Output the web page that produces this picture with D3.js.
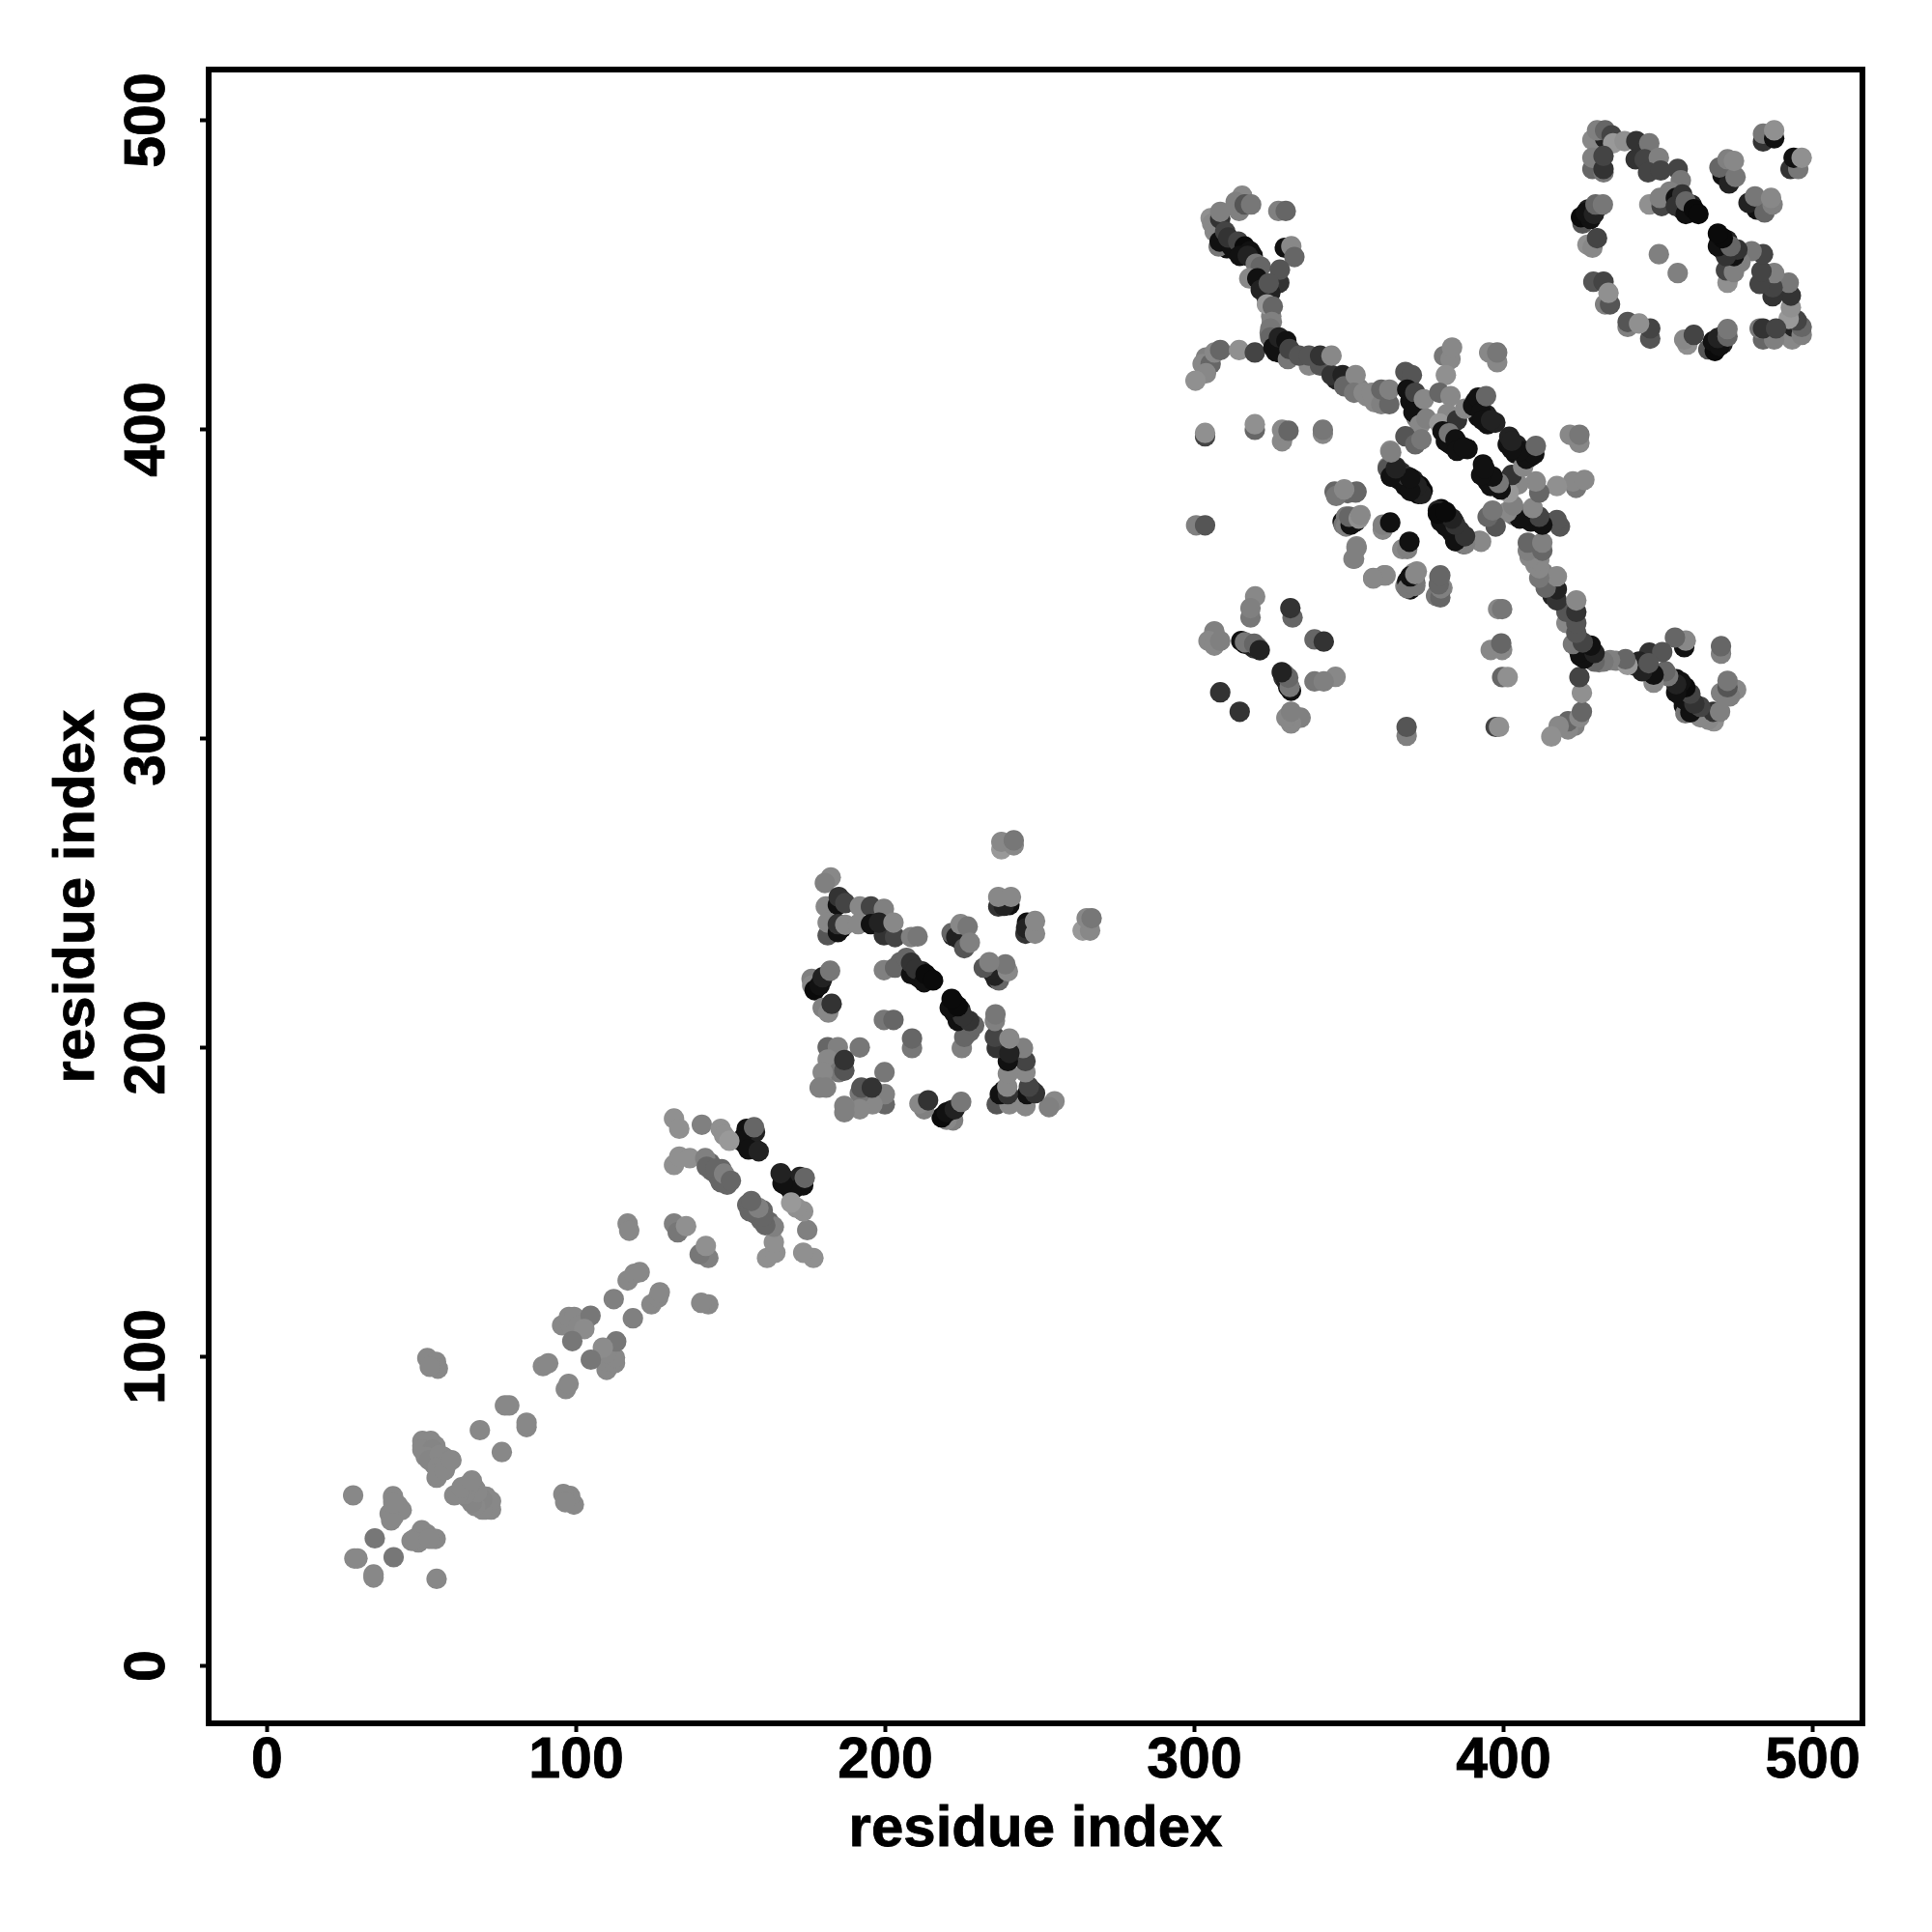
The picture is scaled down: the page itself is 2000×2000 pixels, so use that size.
<!DOCTYPE html>
<html><head><meta charset="utf-8"><title>Contact map</title>
<script src="https://cdnjs.cloudflare.com/ajax/libs/d3/7.8.5/d3.min.js"></script>
<style>html,body{margin:0;padding:0;background:#fff}</style></head>
<body><div id="chart"></div>
<script>
const tickValues = [0,100,200,300,400,500];
const axisTitle = "residue index";
// each contact: [residue i, residue j, grey level]; the map is symmetric, so each is drawn at (i,j) and (j,i)
const strandContacts = [
[50.4,71,133],[51.8,71.5,133],[52.9,70.5,133],[54.6,71,136],[53.3,68.3,133],[54.8,66.5,133],[56.9,66.9,136],[54.2,65,133],[56.5,64.5,136],[57.2,67.5,136],[58,64.5,136],[55,60.7,136],[41,53.5,136],[42,50.5,136],[41,48,136],[42.5,51.8,136],
[143.5,162.5,102],[144,160,102],[146,158.2,102],[147.5,157.5,102],[149,155.5,102],[147.2,160.5,102],[154.5,171,17],[155,168.5,17],[157,168,17],[158,167,34],[156.5,170.5,34],[156,172,17],[158,172.5,34],
[209.5,224.5,17],[211,222.5,17],[212,224.5,34],[214.2,222.5,10],[205,227.5,102],[178,221,17],[177.5,219.5,17],[179.5,221.5,34],[186,247.5,17],[186,238.5,17],[222,236,34],[224,235,34],
[316.5,330.5,17],[319.5,329,51],[317.5,330.5,119],[320.5,329.5,119],
[309.5,460,17],[310.5,458.5,17],[313,458,17],[315.5,458,17],[316.5,457,17],[319,456,17],[322,446.5,34],[323.5,442.5,51],[326,427.5,17],[326.5,425,17],[328.5,427,34],[331.5,424.5,68],[332.5,424,85],[346,416,34],[349.8,415.5,85],[350.5,413.5,119],[353.5,413,128],[356,410.5,136],[359,410.5,119],[362,410.5,102],[325,436.5,128],[324.5,431,119],
[365,385.8,17],[366.5,383.5,17],[367,386,51],[370,382,10],[371.5,380.5,10],[374,380,10],[380,372.5,34],[380.5,371,17],[382.5,370.8,17],[383.5,368.5,17],[385,367.5,17],[386,366,17],[385.5,365,34],[382.5,397.5,17],[383,395,17],[385.5,395,17],[386,393.5,17],[388.5,393.5,17],[391,408.8,17],[391.5,406.5,17],[393,409,17],[392,404,17],[394.7,404.5,34],[395,401.5,17],[397.5,402,34],[370,413,34],[370,409,17],[372,408,17],[372,403.5,119],
[457,476,17],[457,473,17],[458,471,17],[460.5,470,10],[461,472.5,34],[427,468.5,17],[428,469,17],[427.5,471,34],[430.5,471.5,68],[431.5,494.5,34]
];
const contactsA = [
[28,55,136],[40.9,54.7,136],[41.4,51.9,136],[43.7,50.2,136],[39.8,49.1,136],[40.3,46.9,136],[41,52.5,136],[35,41.1,119],[28.4,34.6,136],[29.4,34.6,136],
[50.4,72.6,136],[53.1,72.6,136],[50.4,69.8,136],[53.7,69.8,133],[51.5,67.5,136],[52.6,66.4,133],[56,68.1,136],[55.4,64.2,136],[58.7,65.9,136],[55.4,61.9,136],[57.6,63.1,136],[59.8,66.4,136],
[69,76.1,136],[77.1,84.1,136],[78.5,84.1,136],[52,99.4,136],[54.8,98.2,136],[55.4,96,136],[52.8,96.6,136],
[89.4,96.8,136],[91.1,97.7,136],[95.6,110,136],[98.4,110,136],[97.8,112.7,136],[99.5,112.7,136],[101.1,110,136],[104.8,113.1,119],[102.8,108.8,140],[98.9,104.9,119],
[112.3,118.5,128],[116.8,124.5,136],[119,126.7,136],[120.7,127.2,136],[116.8,142.9,136],[117.3,140.6,136]
];
const contactsB = [
[131.8,176.9,144],[133.5,173.6,144],[140.8,174.9,128],[155.3,173.6,17],[146.9,173.6,144],[148,171.5,144],[153.6,169.7,17],[155.9,166.9,17],[159.2,166.3,34],[157.7,174.1,102],[149.7,169.7,153],
[131.8,161.9,144],[133.5,164.6,144],[136.9,164.1,144],[141.9,164.1,128],[142.4,161.3,102],[145.2,160.7,102],[146.9,156.3,102],[148,159.1,128],[150.2,156.8,102],
[131.8,142.9,128],[133,140.1,119],[135.7,142.1,144]
];
const contactsC = [
[182.5,254.9,136],[180.6,253.1,128],[180.9,245.5,136],[184.8,246,17],[185.1,248.6,51],[187.2,246.6,68],[191.9,245.5,136],[195.5,245.5,68],[199.7,244.7,128],
[181.5,236.2,85],[181.5,240.3,136],[184.8,237.2,17],[184.8,239.8,51],[187.2,239.6,136],[191.4,239.8,136],[195.5,239.8,17],[199.7,236.2,51],[198.1,240.3,34],[203.3,235.6,68],[202.8,240.3,136],[208.5,235.6,128],[210.6,235.8,119],
[176.3,222.1,128],[176.5,220,136],[177.3,218.4,10],[178.9,220,17],[179.9,222.6,34],[182.3,224.7,119],[179.9,212.7,128],[181.7,211.2,136],[182.8,214,51],
[199.7,224.9,128],[203.3,225.7,102],[207,228.9,102],[208.5,223.6,17],[208.5,227.3,51],[210.1,225.2,51],[212.7,221,17],[213.2,223.6,10],[215.6,221.6,10],
[221.6,236.9,102],[223.1,235.6,34],[225.2,234.6,34],[225.7,232,85],[224.5,239.8,136],[226.8,239,119],[227.5,233.8,128],
[236.7,245.5,51],[240.3,246,17],[238.5,245.7,34],[236.7,248.6,136],[240.8,248.6,136],[237.7,264,153],[237.7,266.4,136],[241.7,265.3,136],[241.7,266.9,119],
[199.7,208.8,119],[202.8,208.8,102],[181.5,200,102],[184.8,200,128],[191.9,199.9,119],[181.5,196,136],[185.1,191.9,119],[186.9,192.4,85],[186.9,195.8,51],[179.9,191.9,136],[178.9,186.9,128],[181,186.9,128]
];
const contactsD = [
[319.8,345.8,136],[318.3,339,119],[318.3,342,128],[331.9,339,102],[331.2,342,51],[306.6,334.5,128],[304.7,331.4,136],[306.6,329.9,136],[308.5,331.4,128],
[315.3,331.4,17],[318.3,329.9,34],[316.5,331,119],[319.5,330.5,102],[321.3,328.4,34],[308.5,314.8,51]
];
const contactsE = [
[303.9,423.1,128],[302.8,421,136],[305.4,421,102],[303.9,418,136],[300.5,415.6,144],[306.7,424.7,136],[308.5,425.5,102],[314.6,425.5,144],[319.7,424.7,68],
[303.6,397.6,68],[303.6,398.7,144],[319.7,399.7,102],[319.7,401.5,144],[328.5,396,136],[328.5,399.7,136],[330.6,399.4,102],[341.7,398.4,136],[341.7,399.7,119],
[300.7,368.8,128],[303.6,368.8,85],
[345.5,379.7,102],[348.4,379.9,128],[349.7,379.2,102],[352.6,379.7,102],
[348.1,370,17],[348.4,369,119],[349.2,371.6,119],[352.3,370,17],[353,371.6,136],[352.6,362,136],[351.6,358,136],[358,351.8,128],[361.5,352.6,128],
[361.1,367.4,136],[361.1,369,128],[363.5,369.7,17],
[368.4,349.2,128],[369,350.7,17],[371.6,350.2,102],[371,353.3,144],[372.1,353.9,136],[378.3,346,119],[379.4,352.3,102],[380.4,348.6,136]
];
const contactsF = [
[315.6,475.4,136],[313.5,473.4,128],[314.6,470.5,128],[316.4,472.6,85],[318.5,472.6,119],[327.3,470.5,128],[329.7,470.5,102],
[305.4,468.2,144],[305.9,466.4,136],[306.7,463.8,136],[308.5,468,51],[308.5,470.2,128],[308,459,119],[308.3,460.6,17],[312.2,459,17],[310.1,463.8,68],[311.1,461.9,51],[314.3,460.6,68],[316.4,459,10],[318.1,457.5,17],[314.8,456,17],[317.4,456,34],[320,453.4,119],[321.6,452.5,102],
[317.9,448.7,136],[320.5,448.7,17],[329.4,458.6,17],[331.5,459.1,136],[332.5,455.6,102],[327.6,447.3,51],[327.8,451.5,85],[321.6,445,34],[324.7,444,34],[324.2,447.1,85],
[323.6,440.3,153],[325.5,439.6,102],[325.2,434.6,128],[324.7,432.5,119],[324.7,429.6,102],[325.7,426.3,17],[327.8,424.7,17],[327.5,429.6,34],[329.9,428.4,17],[330.4,422.6,119],[330.9,425.8,68],
[337.2,420.5,136],[334,423.7,85],[337.2,423.7,85],[340.8,420.5,85],[340.8,423.7,51],[344.5,417.4,51],[344.5,423.7,136],[348.1,417.4,34],[348.6,413.8,102],[352.3,417.4,136],
[351.8,411.7,119],[354.9,411.7,136],[357.5,411.7,136],[358.5,408.6,136],[360.6,408,128],[363.2,408,102],[360.6,412.7,102],[363.2,412.7,128]
];
const contactsG = [
[368.4,418.4,85],[370.5,417.4,85],[369,412.7,17],[371.6,411.7,68],[371,405.4,17],[374.4,409.6,136],[373.1,401.3,136],[375.2,403.3,128],[368.4,397.6,85],[371.6,395,102],[373.6,396.6,119],
[363.5,392.9,136],[362.7,387.7,128],[363.8,384.6,17],[365.3,387.7,51],[368.4,381.5,17],[369,384.6,51],[371,383.5,34],[372.6,378.9,10],[373.1,381.5,10],
[378.9,373.6,34],[381.5,372.1,34],[379.9,370,17],[384.1,370,17],[387.2,362.7,85],[384.6,363.7,17],[387.2,365.3,34],[392.4,363.8,128],
[380.9,423.6,119],[383,422.6,136],[383.5,426.3,136],[381.5,417.4,144],[379.4,411.7,102],[383,410.6,136],[382,404.9,136],[379.4,401.8,153],[385.1,402.8,51],[387.7,406.5,136],
[380.4,399.2,17],[381.5,396,17],[382.5,398.6,119],[384.6,396.6,17],[385.1,392.9,17],[387.2,394,17],
[390.3,407.5,17],[391.9,410.1,17],[392.9,405.4,17],[393.4,402.8,17],[396.1,402.8,34],[394.5,410.6,102],
[395.5,424.7,136],[398.1,421.6,136],[398.1,424.7,119]
];
const contactsH = [
[428.9,493.5,136],[433,494,34],[430.4,496.6,128],[433,496.6,102],[435.1,495,68],[435.6,492.4,153],[439.3,493.1,144],[443.1,493.1,51],[447.3,492.4,119],
[442.9,487.2,51],[445.8,487.2,68],[450.4,487.7,128],[446.9,483,68],[451,483.6,68],[456.5,484.1,68],[457.5,480.4,119],
[428.9,484.1,102],[432.5,483,119],[428.9,487.7,128],[432.5,484.1,51],[432.5,488.3,68],
[447.3,472.6,144],[451.3,472.1,68],[450.7,474.7,128],[453.9,476.8,128],[455.9,474.7,17],[458,475.8,51],[455.9,472.1,51],[459.1,469.5,17],[459.1,473.6,102],[461.7,471.1,10],[463.2,469.5,10],
[425.7,466.4,85],[425.2,468.5,10],[428.3,467.9,17],[426.8,470,17],[429.4,469.5,34],[429.9,472.6,102],[432.3,472.6,119],
[427.3,459.6,144],[428.9,458.6,136],[430.4,461.7,68],[450.4,456.5,128],
[429.2,447.6,85],[432.5,447.6,68],[433,440.3,128],[434.6,440.3,85],[434.1,444,144],
[471,482,17],[473.1,479.4,34],[470,484.6,102],[472.6,487.2,128],[475.2,481.5,119],[474.7,486.7,136],
[484.1,493,51],[484.1,495.5,119],[487.7,494,17],[487.7,496.6,144]
];
const contactGroups = [strandContacts,contactsA,contactsB,contactsC,contactsD,contactsE,contactsF,contactsG,contactsH];

const W=2000, H=2000, L=216, R=1928, T=72, B=1784, pointR=10.6;
const x=d3.scaleLinear().domain([-18.75,516.25]).range([L,R]);
const y=d3.scaleLinear().domain([-18.75,516.25]).range([B,T]);
const svg=d3.select("#chart").append("svg").attr("width",W).attr("height",H).style("display","block")
  .style("font-family","'Liberation Sans',Arial,sans-serif").style("font-weight","bold");
svg.append("rect").attr("width",W).attr("height",H).attr("fill","#fff");

const g=svg.append("g");
contactGroups.forEach(list=>{
  g.selectAll(null).data(list).enter().append("circle")
    .attr("cx",d=>x(d[0])).attr("cy",d=>y(d[1])).attr("r",pointR)
    .attr("fill",d=>d3.rgb(d[2],d[2],d[2]));
  g.selectAll(null).data(list).enter().append("circle")
    .attr("cx",d=>x(d[1])).attr("cy",d=>y(d[0])).attr("r",pointR)
    .attr("fill",d=>d3.rgb(d[2],d[2],d[2]));
});

const xAxis=svg.append("g").attr("transform",`translate(0,${B})`)
  .call(d3.axisBottom(x).tickValues(tickValues).tickSize(9).tickPadding(16).tickFormat(d3.format("d")));
const yAxis=svg.append("g").attr("transform",`translate(${L},0)`)
  .call(d3.axisLeft(y).tickValues(tickValues).tickSize(9).tickPadding(0).tickFormat(d3.format("d")));
[xAxis,yAxis].forEach(a=>{
  a.select(".domain").remove();
  a.selectAll("line").attr("stroke","#000").attr("stroke-width",4);
  a.selectAll("text").attr("fill","#000").style("font-size","59px").style("font-family","'Liberation Sans',Arial,sans-serif").style("font-weight","bold");
});
xAxis.selectAll("text").attr("dy",null).attr("y",null).attr("transform",null)
  .attr("dominant-baseline","auto").attr("y",56).attr("stroke","#000").attr("stroke-width",0.8);
yAxis.selectAll("text").attr("dy",null).attr("x",null).attr("y",null)
  .attr("text-anchor","middle").attr("stroke","#000").attr("stroke-width",0.8)
  .attr("transform","translate(-46,0) rotate(-90)");

svg.append("rect").attr("x",L).attr("y",T).attr("width",R-L).attr("height",B-T)
  .attr("fill","none").attr("stroke","#000").attr("stroke-width",6);

svg.append("text").attr("x",(L+R)/2).attr("y",1911).attr("text-anchor","middle")
  .attr("stroke","#000").attr("stroke-width",0.8).style("font-size","60px").text(axisTitle);
svg.append("text").attr("transform",`translate(97,${(T+B)/2}) rotate(-90)`).attr("text-anchor","middle")
  .attr("stroke","#000").attr("stroke-width",0.8).style("font-size","60px").text(axisTitle);
</script></body></html>
